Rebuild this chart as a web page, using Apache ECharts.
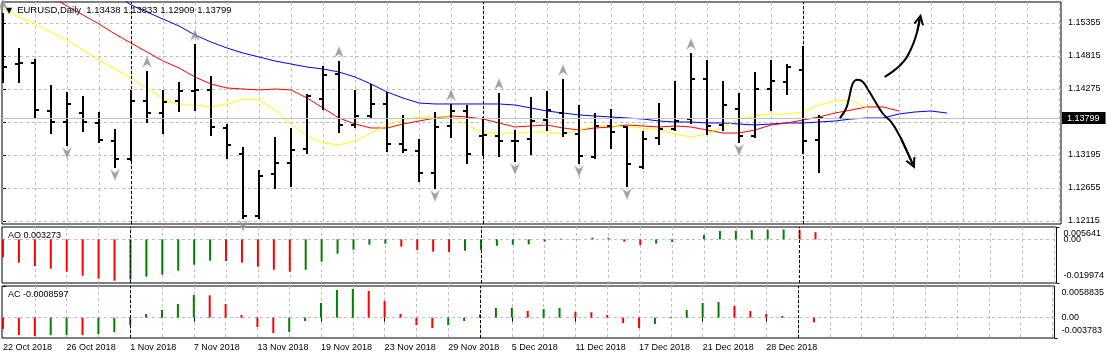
<!DOCTYPE html>
<html><head><meta charset="utf-8">
<script src="https://cdn.jsdelivr.net/npm/echarts@6/dist/echarts.min.js"></script>
<style>html,body{margin:0;padding:0;background:#fff}#c{width:1107px;height:359px}</style>
</head><body><div id="c"></div>
<script>
// ---------- data ----------
const dates = ['22 Oct 2018','23 Oct 2018','24 Oct 2018','25 Oct 2018','26 Oct 2018','29 Oct 2018','30 Oct 2018','31 Oct 2018',
'1 Nov 2018','2 Nov 2018','5 Nov 2018','6 Nov 2018','7 Nov 2018','8 Nov 2018','9 Nov 2018','12 Nov 2018','13 Nov 2018','14 Nov 2018',
'15 Nov 2018','16 Nov 2018','19 Nov 2018','20 Nov 2018','21 Nov 2018','22 Nov 2018','23 Nov 2018','26 Nov 2018','27 Nov 2018',
'28 Nov 2018','29 Nov 2018','30 Nov 2018','3 Dec 2018','4 Dec 2018','5 Dec 2018','6 Dec 2018','7 Dec 2018','10 Dec 2018',
'11 Dec 2018','12 Dec 2018','13 Dec 2018','14 Dec 2018','17 Dec 2018','18 Dec 2018','19 Dec 2018','20 Dec 2018','21 Dec 2018',
'24 Dec 2018','26 Dec 2018','27 Dec 2018','28 Dec 2018','31 Dec 2018','2 Jan 2019','3 Jan 2019'];
const opens = [1.15100,1.14684,1.14700,1.13915,1.13735,1.13882,1.13719,1.13424,1.13130,1.14079,1.13882,1.14079,1.14242,1.14259,
1.13637,1.13211,1.12200,1.12884,1.13064,1.13293,1.14111,1.14520,1.13686,1.13833,1.14030,1.13375,1.13261,1.12900,1.13670,1.13915,
1.13506,1.13506,1.13424,1.13457,1.13768,1.13882,1.13539,1.13162,1.13670,1.13653,1.12999,1.13473,1.13620,1.13784,1.14439,1.13686,
1.13948,1.13506,1.14275,1.14390,1.14586,1.13438];
const highs = [1.15500,1.14930,1.14750,1.14324,1.14210,1.14144,1.13882,1.13604,1.14242,1.14553,1.14242,1.14373,1.14995,1.14471,
1.13686,1.13310,1.12933,1.13473,1.13620,1.14177,1.14635,1.14717,1.14242,1.14340,1.14210,1.13833,1.13440,1.13882,1.14013,1.13997,
1.13800,1.14193,1.13588,1.14128,1.14226,1.14422,1.13997,1.13866,1.13931,1.13660,1.13571,1.14030,1.14390,1.14848,1.14733,1.14390,
1.14193,1.14537,1.14733,1.14668,1.14962,1.13833];
const lows = [1.14390,1.14390,1.13817,1.13555,1.13359,1.13588,1.13408,1.12999,1.13113,1.13735,1.13555,1.13915,1.13931,1.13522,
1.13146,1.12170,1.12160,1.12655,1.12688,1.13228,1.13948,1.13571,1.13653,1.13817,1.13261,1.13244,1.12770,1.12655,1.13490,1.13064,
1.13195,1.13179,1.13097,1.13211,1.13604,1.13506,1.13064,1.13146,1.13310,1.12688,1.12982,1.13375,1.13604,1.13719,1.13539,1.13604,
1.13408,1.13490,1.13931,1.14193,1.13228,1.12909];
const closes = [1.14635,1.14700,1.13931,1.13735,1.14030,1.13735,1.13440,1.13130,1.14079,1.13882,1.14062,1.14242,1.14259,1.13653,
1.13359,1.12200,1.12851,1.13064,1.13277,1.14160,1.14504,1.13686,1.13833,1.14030,1.13375,1.13277,1.12900,1.13653,1.13915,1.13211,
1.13522,1.13424,1.13420,1.13751,1.13931,1.13555,1.13179,1.13670,1.13571,1.13048,1.13457,1.13620,1.13751,1.14439,1.13670,1.14013,
1.13506,1.14275,1.14406,1.14635,1.13424,1.13799];
// Alligator lines (already shifted forward)
const jawBlue = [1.16550,1.16451,1.16353,1.16255,1.16157,1.16059,1.15944,1.15830,1.15650,1.15535,1.15420,1.15306,1.15159,1.15044,
1.14946,1.14864,1.14799,1.14733,1.14684,1.14635,1.14602,1.14553,1.14471,1.14357,1.14226,1.14128,1.14046,1.14030,1.14030,1.14030,
1.14030,1.14030,1.14013,1.13964,1.13915,1.13882,1.13850,1.13833,1.13817,1.13800,1.13784,1.13751,1.13735,1.13735,1.13719,1.13719,
1.13702,1.13686,1.13702,1.13719,1.13719,1.13735,1.13751,1.13784,1.13800,1.13800,1.13866,1.13899,1.13915,1.13882];
const teethRed = [1.16206,1.16059,1.15911,1.15780,1.15633,1.15486,1.15339,1.15175,1.15028,1.14880,1.14733,1.14619,1.14471,1.14357,
1.14291,1.14275,1.14259,1.14275,1.14259,1.14128,1.13964,1.13800,1.13702,1.13637,1.13637,1.13702,1.13751,1.13800,1.13833,1.13817,
1.13784,1.13719,1.13653,1.13670,1.13686,1.13637,1.13604,1.13637,1.13653,1.13686,1.13670,1.13653,1.13670,1.13653,1.13604,1.13555,
1.13555,1.13604,1.13686,1.13719,1.13768,1.13817,1.13882,1.13931,1.13981,1.13981,1.13915];
const lipsYellow = [1.15584,1.15453,1.15339,1.15208,1.15077,1.14913,1.14750,1.14602,1.14455,1.14291,1.14111,1.14013,1.14013,1.13981,
1.14030,1.14111,1.14095,1.13931,1.13702,1.13506,1.13391,1.13359,1.13424,1.13555,1.13686,1.13768,1.13817,1.13817,1.13817,1.13686,
1.13555,1.13555,1.13555,1.13571,1.13571,1.13539,1.13604,1.13670,1.13670,1.13653,1.13637,1.13604,1.13539,1.13490,1.13539,1.13653,
1.13784,1.13833,1.13866,1.13866,1.13899,1.14013,1.14079,1.14095,1.13964];
const aoValues = [-0.00822,-0.01069,-0.01220,-0.01343,-0.01481,-0.01664,-0.01801,-0.01892,-0.01847,-0.01709,-0.01618,-0.01435,
-0.01160,-0.00977,-0.00990,-0.01069,-0.01252,-0.01389,-0.01481,-0.01389,-0.01023,-0.00657,-0.00474,-0.00246,-0.00200,-0.00337,
-0.00488,-0.00566,-0.00575,-0.00520,-0.00488,-0.00291,-0.00246,-0.00232,-0.00108,0.00029,0.00015,0.00075,0.00065,-0.00108,
-0.00259,-0.00200,-0.00122,0.00015,0.00198,0.00381,0.00395,0.00427,0.00440,0.00452,0.00420,0.003273];
const acValues = [-0.00211,-0.00323,-0.00341,-0.00325,-0.00320,-0.00325,-0.00304,-0.00267,-0.00137,0.00068,0.00142,0.00254,
0.00421,0.00415,0.00254,0.00049,-0.00174,-0.00285,-0.00267,-0.00062,0.00272,0.00514,0.00533,0.00495,0.00310,0.00068,-0.00137,
-0.00192,-0.00137,-0.00062,0.00062,0.00179,0.00185,0.00124,0.00161,0.00179,0.00105,0.00100,0.00049,-0.00099,-0.00192,-0.00118,
0.00012,0.00142,0.00272,0.00291,0.00217,0.00124,0.00068,0.00031,0.00005,-0.00086];
const aoCurrent = 0.003273;
const acCurrent = -0.0008597;
const fractalUp = [0, 9, 12, 21, 28, 31, 35, 43];
const fractalDown = [4, 7, 15, 27, 32, 36, 39, 46];
const periodSeparators = [8, 30, 50];
const priceTicks = [1.15355, 1.14815, 1.14275, 1.13735, 1.13195, 1.12655, 1.12115];
const aoRange = [-0.019974, 0.005641];
const acRange = [-0.003783, 0.0058835];
const dateLabelIdx = [0, 4, 8, 12, 16, 20, 24, 28, 32, 36, 40, 44, 48];
const gridIdx = []; for (let k = 2; k <= 66; k += 2) gridIdx.push(k);
// hand-drawn arrows (bar index, price)
const arrowUpPath = [[55.1,1.14471],[55.6,1.14560],[56.06,1.14660],[56.45,1.14780],[56.75,1.14930],[56.98,1.15080],[57.15,1.15230],[57.3,1.15420]];
const arrowDownPath = [[52.31,1.13800],[52.7,1.13960],[52.9,1.14150],[53.1,1.14360],[53.4,1.14425],[53.75,1.14390],[54.1,1.14250],[54.4,1.14120],[55.0,1.13870],[55.5,1.13740],[56.1,1.13480],[56.85,1.13050]];

// ---------- chart ----------
const FONT = "'Liberation Sans', Arial, sans-serif";
const XMIN = -0.0625, XMAX = 66.125;
const chart = echarts.init(document.getElementById('c'), null, {renderer: 'canvas'});
const gridLine = {show: true, lineStyle: {color: '#c0c0c0', type: [3, 3], width: 1}};
const xBase = (gi) => ({type: 'value', gridIndex: gi, min: XMIN, max: XMAX, axisLine: {show: false},
  axisLabel: {show: false}, axisTick: {show: false, customValues: gridIdx}, splitLine: gridLine});
const lbl = {fontSize: 9, color: '#000', fontFamily: FONT};
const yExtra = (gi, range, val, va, pad) => ({type: 'value', gridIndex: gi, position: 'right', min: range[0], max: range[1],
  axisLine: {show: false}, splitLine: {show: false},
  axisTick: {show: true, length: 3, customValues: [val], lineStyle: {color: '#000'}},
  axisLabel: Object.assign({show: true, customValues: [val], margin: 7, verticalAlign: va, padding: pad,
    showMinLabel: true, showMaxLabel: true, formatter: v => String(val)}, lbl)});
const yZero = (gi, range) => ({type: 'value', gridIndex: gi, position: 'right', min: range[0], max: range[1],
  axisLine: {show: false}, splitLine: gridLine,
  axisTick: {show: false, customValues: [0]},
  axisLabel: Object.assign({show: true, customValues: [0], margin: 7, formatter: () => '0.00'}, lbl)});

const sepLine = (list) => ({symbol: 'none', silent: true, animation: false, precision: 5, label: {show: false},
  lineStyle: {color: '#000', type: [3, 2], width: 1}, data: list.map(k => ({xAxis: k}))});

const ohlc = opens.map((o, i) => [i, o, highs[i], lows[i], closes[i]]);
const last = ohlc.length - 1;
const colorFor = (arr) => arr.map((v, i) => (i > 0 && v > arr[i - 1]) ? '#008000' : '#ff0000');
const aoColors = colorFor(aoValues), acColors = colorFor(acValues);

const fractalShape = 'path://M5,0 L10,11 L5,7.5 L0,11 Z';
const openHead = 'path://M0,10 L5,0 L10,10 L8,10 L5,4 L2,10 Z';
const tail = (p) => [p[p.length - 2], p[p.length - 1]];

const option = {
  animation: false,
  backgroundColor: '#fff',
  title: [
    {text: '{t|▼}EURUSD,Daily  ' + [opens[last], highs[last], lows[last], closes[last]].map(v => v.toFixed(5)).join(' '),
     left: 5, top: 5, padding: 0,
     textStyle: {fontSize: 9.5, fontWeight: 'normal', color: '#000', fontFamily: FONT, lineHeight: 11,
       rich: {t: {fontSize: 8, fontFamily: 'DejaVu Sans', color: '#000', padding: [0, 5, 0, 1]}}}},
    {text: 'AO ' + String(aoCurrent), left: 8, top: 230, padding: 0,
     textStyle: {fontSize: 9, fontWeight: 'normal', color: '#000', fontFamily: FONT, lineHeight: 11}},
    {text: 'AC ' + String(acCurrent), left: 8, top: 289, padding: 0,
     textStyle: {fontSize: 9, fontWeight: 'normal', color: '#000', fontFamily: FONT, lineHeight: 11}}
  ],
  grid: [
    {left: 2, top: 2, width: 1059, height: 222, show: true, borderColor: '#000', borderWidth: 1, backgroundColor: '#fff'},
    {left: 2, top: 227, width: 1059, height: 56, show: true, borderColor: '#000', borderWidth: 1, backgroundColor: '#fff'},
    {left: 2, top: 286, width: 1059, height: 52, show: true, borderColor: '#000', borderWidth: 1, backgroundColor: '#fff'}
  ],
  xAxis: [
    xBase(0), xBase(1), xBase(2),
    {type: 'value', gridIndex: 2, min: XMIN, max: XMAX, position: 'bottom', axisLine: {show: false}, splitLine: {show: false},
     axisTick: {show: true, length: 4, customValues: dateLabelIdx, lineStyle: {color: '#000'}},
     axisLabel: Object.assign({show: true, customValues: dateLabelIdx, align: 'left', margin: 5,
       formatter: v => dates[Math.round(v)] || ''}, lbl)}
  ],
  yAxis: [
    {type: 'value', gridIndex: 0, position: 'right', min: 1.120659, max: 1.156987, axisLine: {show: false},
     splitLine: gridLine,
     axisTick: {show: true, length: 3, customValues: priceTicks, lineStyle: {color: '#000'}},
     axisLabel: Object.assign({show: true, customValues: priceTicks, margin: 7, formatter: v => v.toFixed(5)}, lbl)},
    yZero(1, aoRange),
    yExtra(1, aoRange, aoRange[1], 'top', [2, 0, 0, 0]),
    yExtra(1, aoRange, aoRange[0], 'bottom', [0, 0, 3, 0]),
    yZero(2, acRange),
    yExtra(2, acRange, acRange[1], 'top', [2, 0, 0, 0]),
    yExtra(2, acRange, acRange[0], 'bottom', [0, 0, 3, 0])
  ],
  series: [
    {type: 'line', xAxisIndex: 0, yAxisIndex: 0, data: jawBlue.map((v, i) => [i, v]), showSymbol: false, symbol: 'none',
     lineStyle: {color: '#0000ff', width: 1}, clip: true, z: 2,
     markLine: sepLine(periodSeparators)},
    {type: 'line', xAxisIndex: 0, yAxisIndex: 0, data: teethRed.map((v, i) => [i, v]), showSymbol: false, symbol: 'none',
     lineStyle: {color: '#ff0000', width: 1}, clip: true, z: 2},
    {type: 'line', xAxisIndex: 0, yAxisIndex: 0, data: lipsYellow.map((v, i) => [i, v]), showSymbol: false, symbol: 'none',
     lineStyle: {color: '#ffff00', width: 1}, clip: true, z: 2,
     markLine: {symbol: 'none', silent: true, animation: false, precision: 5,
       data: [{yAxis: closes[last], lineStyle: {color: '#c0c0c0', type: 'solid', width: 1},
         label: {show: true, position: 'end', distance: 1, formatter: closes[last].toFixed(5), backgroundColor: '#000',
           color: '#fff', padding: [2, 6, 1, 5], fontSize: 9, fontFamily: FONT}}]}},
    {type: 'custom', xAxisIndex: 0, yAxisIndex: 0, data: ohlc, clip: true, z: 3,
     encode: {x: 0, y: [1, 2, 3, 4]},
     renderItem: function (params, api) {
       const k = api.value(0);
       const o = api.coord([k, api.value(1)]), h = api.coord([k, api.value(2)]);
       const l = api.coord([k, api.value(3)]), c = api.coord([k, api.value(4)]);
       const x = Math.round(h[0]);
       const st = {stroke: '#000', lineWidth: 2};
       return {type: 'group', children: [
         {type: 'line', shape: {x1: x, y1: Math.round(h[1]) - 1, x2: x, y2: Math.round(l[1]) + 1}, style: st},
         {type: 'line', shape: {x1: x - 4, y1: Math.round(o[1]), x2: x, y2: Math.round(o[1])}, style: st},
         {type: 'line', shape: {x1: x, y1: Math.round(c[1]), x2: x + 4, y2: Math.round(c[1])}, style: st}
       ]};
     }},
    {type: 'scatter', xAxisIndex: 0, yAxisIndex: 0, data: fractalUp.map(k => [k, highs[k]]), symbol: fractalShape,
     symbolSize: [9, 11], symbolOffset: [0, -10], itemStyle: {color: '#8a8a8a', borderColor: '#b8c4d8', borderWidth: 0.6}, z: 4, silent: true},
    {type: 'scatter', xAxisIndex: 0, yAxisIndex: 0, data: fractalDown.map(k => [k, lows[k]]), symbol: fractalShape,
     symbolRotate: 180, symbolSize: [9, 11], symbolOffset: [0, 8], itemStyle: {color: '#8a8a8a', borderColor: '#b8c4d8', borderWidth: 0.6}, z: 4, silent: true},
    {type: 'line', xAxisIndex: 0, yAxisIndex: 0, data: arrowUpPath, smooth: 0.35, showSymbol: false, symbol: 'none',
     lineStyle: {color: '#000', width: 2}, clip: true, z: 5},
    {type: 'line', xAxisIndex: 0, yAxisIndex: 0, data: arrowDownPath, smooth: 0.35, showSymbol: false, symbol: 'none',
     lineStyle: {color: '#000', width: 2}, clip: true, z: 5},
    {type: 'lines', coordinateSystem: 'cartesian2d', xAxisIndex: 0, yAxisIndex: 0, z: 5,
     symbol: ['none', openHead], symbolSize: 11,
     lineStyle: {color: '#000', width: 2, opacity: 1},
     data: [{coords: tail(arrowUpPath)}, {coords: tail(arrowDownPath)}]},
    {type: 'bar', xAxisIndex: 1, yAxisIndex: 1, barWidth: 2, z: 3,
     data: aoValues.map((v, i) => ({value: [i, v], itemStyle: {color: aoColors[i]}})),
     markLine: sepLine(periodSeparators)},
    {type: 'bar', xAxisIndex: 2, yAxisIndex: 4, barWidth: 2, z: 3,
     data: acValues.map((v, i) => ({value: [i, v], itemStyle: {color: acColors[i]}})),
     markLine: sepLine(periodSeparators)}
  ]
};
chart.setOption(option);
</script>
</body></html>
